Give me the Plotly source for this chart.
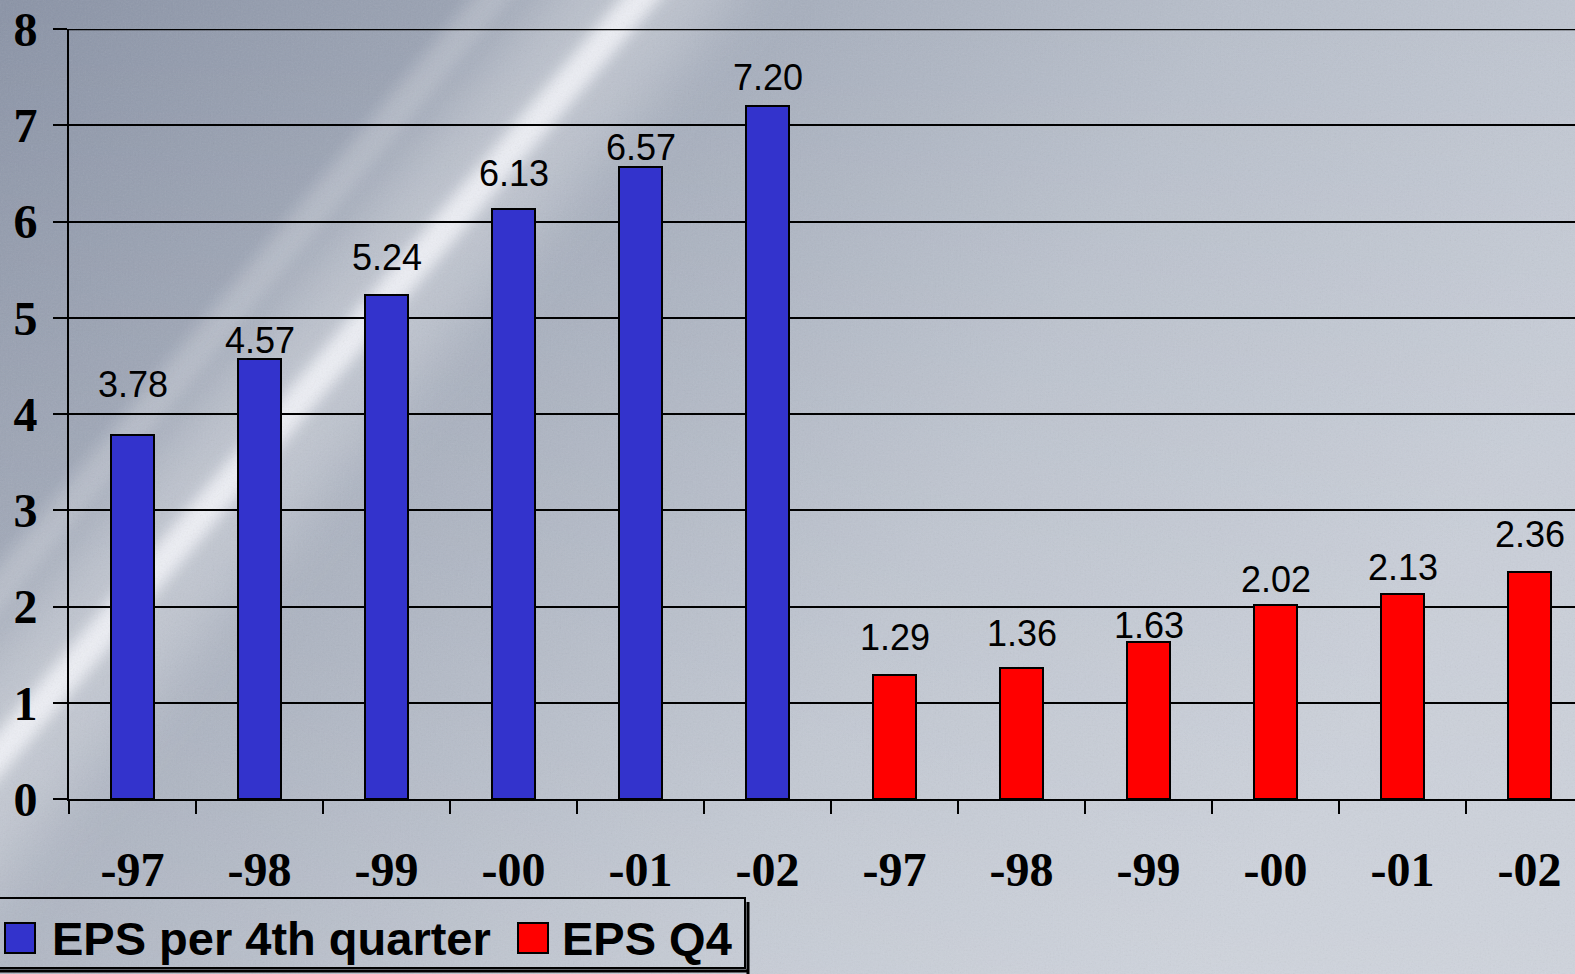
import base64
import plotly.graph_objects as go

# ---- data -------------------------------------------------------------
years = ["-97", "-98", "-99", "-00", "-01", "-02"]
eps_4th_quarter = [3.78, 4.57, 5.24, 6.13, 6.57, 7.20]
eps_q4 = [1.29, 1.36, 1.63, 2.02, 2.13, 2.36]
series_names = ["EPS per 4th quarter", "EPS Q4"]
series_colors = ["#3333CC", "#FF0000"]
y_ticks = [0, 1, 2, 3, 4, 5, 6, 7, 8]

# hand-placed value labels: lift (px) of each label's centre above its bar
label_lift = [[51, 19, 37, 35, 19, 29], [37, 35, 17, 25, 26, 37]]

# ---- page geometry ----------------------------------------------------
W, H = 1575, 974
L, R, T, B = 69, 0, 29, 175
PW, PH = W - L - R, H - T - B
n_cat = len(years) * 2
cat_px = 127.0                      # width of one category slot in pixels
x_right = -0.5 + PW / cat_px


def px_x(px):
    return (px - L) / PW


def px_y(py):
    return (H - B - py) / PH


# ---- background: bluish grey wash with a bright diagonal streak --------
svg = f"""<svg xmlns='http://www.w3.org/2000/svg' width='{W}' height='{H}' viewBox='0 0 {W} {H}'>
<defs>
 <linearGradient id='g' x1='0' y1='0' x2='1' y2='0.35'>
  <stop offset='0' stop-color='#8a93a6'/>
  <stop offset='0.4' stop-color='#a3abba'/>
  <stop offset='0.7' stop-color='#b8bfcb'/>
  <stop offset='1' stop-color='#c3c9d4'/>
 </linearGradient>
 <linearGradient id='v' x1='0' y1='0' x2='0' y2='1'>
  <stop offset='0' stop-color='#ffffff' stop-opacity='0'/>
  <stop offset='1' stop-color='#ffffff' stop-opacity='0.2'/>
 </linearGradient>
 <filter id='b1' x='-50%' y='-50%' width='200%' height='200%'><feGaussianBlur stdDeviation='30'/></filter>
 <filter id='b2' x='-50%' y='-50%' width='200%' height='200%'><feGaussianBlur stdDeviation='7'/></filter>
 <filter id='n'>
  <feTurbulence type='fractalNoise' baseFrequency='0.6' numOctaves='3' seed='3'/>
  <feColorMatrix type='saturate' values='0'/>
 </filter>
</defs>
<rect width='{W}' height='{H}' fill='url(#g)'/>
<rect width='{W}' height='{H}' fill='url(#v)'/>
<line x1='700' y1='-80' x2='-160' y2='950' stroke='#ffffff' stroke-opacity='0.3' stroke-width='150' filter='url(#b1)'/>
<line x1='690' y1='-60' x2='-150' y2='930' stroke='#f4f6fa' stroke-opacity='0.85' stroke-width='30' filter='url(#b2)'/>
<line x1='540' y1='-60' x2='-260' y2='900' stroke='#ffffff' stroke-opacity='0.2' stroke-width='30' filter='url(#b2)'/>
<rect width='{W}' height='{H}' filter='url(#n)' opacity='0.12'/>
</svg>"""
bg_uri = "data:image/svg+xml;base64," + base64.b64encode(svg.encode()).decode()

# ---- figure -----------------------------------------------------------
fig = go.Figure()
annotations = []

groups = [eps_4th_quarter, eps_q4]
for gi, (vals, name, color) in enumerate(zip(groups, series_names, series_colors)):
    xs = [gi * len(years) + i for i in range(len(vals))]
    fig.add_trace(go.Bar(
        x=xs, y=vals, name=name, width=0.345,
        marker=dict(color=color, line=dict(color="black", width=2)),
        showlegend=False,
    ))
    for xv, v, lift in zip(xs, vals, label_lift[gi]):
        annotations.append(dict(
            x=xv, y=v, xref="x", yref="y", text=f"{v:.2f}", showarrow=False,
            xanchor="center", yanchor="middle", yshift=lift,
            font=dict(family="Liberation Sans, Arial", size=36, color="black"),
        ))

fig.update_layout(
    width=W, height=H,
    margin=dict(l=L, r=R, t=T, b=B, pad=0),
    paper_bgcolor="#a9b0bd", plot_bgcolor="rgba(0,0,0,0)",
    barmode="overlay", bargap=0,
    images=[dict(source=bg_uri, xref="paper", yref="paper",
                 x=px_x(0), y=px_y(0), sizex=W / PW, sizey=H / PH,
                 xanchor="left", yanchor="top", sizing="stretch", layer="below")],
)

fig.update_xaxes(
    range=[-0.5, x_right],
    tickvals=list(range(n_cat)), ticktext=years + years,
    ticks="", ticklen=0, ticklabelstandoff=27,
    tickfont=dict(family="Liberation Serif, Times New Roman", size=48, color="black", weight="bold"),
    showgrid=False, zeroline=False,
    showline=True, linecolor="black", linewidth=2,
    minor=dict(tick0=0.5, dtick=1, ticks="outside", ticklen=13, tickwidth=2, tickcolor="black", showgrid=False),
)

fig.update_yaxes(
    range=[0, 8], tickvals=y_ticks, ticktext=[str(v) for v in y_ticks],
    ticks="outside", ticklen=14, tickwidth=2, tickcolor="black", ticklabelstandoff=6,
    tickfont=dict(family="Liberation Serif, Times New Roman", size=48, color="black", weight="bold"),
    showgrid=True, gridcolor="black", gridwidth=1.6, zeroline=False,
    showline=True, linecolor="black", linewidth=2,
)

shapes = []
# top gridline sits on the plot edge
shapes.append(dict(type="line", xref="paper", yref="y", x0=0, x1=1, y0=8, y1=8,
                   line=dict(color="black", width=2.5)))

# ---- legend box drawn with shapes and text ----------------------------
box_l, box_r, box_t, box_b = -6, 745, 898, 968
# drop shadow on the right and bottom edges
shapes.append(dict(type="line", xref="paper", yref="paper",
                   x0=px_x(box_r + 3), x1=px_x(box_r + 3), y0=px_y(box_t + 4), y1=px_y(box_b + 6),
                   line=dict(color="black", width=3)))
shapes.append(dict(type="line", xref="paper", yref="paper",
                   x0=px_x(box_l), x1=px_x(box_r + 4), y0=px_y(box_b + 3), y1=px_y(box_b + 3),
                   line=dict(color="black", width=3)))
shapes.append(dict(type="rect", xref="paper", yref="paper",
                   x0=px_x(box_l), x1=px_x(box_r), y0=px_y(box_b), y1=px_y(box_t),
                   line=dict(color="black", width=2), fillcolor="rgba(0,0,0,0)"))

legend_items = [(5, 50), (518, 560)]
for (sw_x, tx_x), name, color in zip(legend_items, series_names, series_colors):
    shapes.append(dict(type="rect", xref="paper", yref="paper",
                       x0=px_x(sw_x), x1=px_x(sw_x + 30), y0=px_y(953), y1=px_y(923),
                       line=dict(color="black", width=2), fillcolor=color))
    annotations.append(dict(xref="paper", yref="paper", x=px_x(tx_x), y=px_y(938),
                            xanchor="left", yanchor="middle", showarrow=False,
                            text=f"<b>{name}</b>",
                            font=dict(family="Liberation Sans, Arial", size=47, color="black")))

fig.update_layout(shapes=shapes, annotations=annotations)

fig.write_html("out.html")
